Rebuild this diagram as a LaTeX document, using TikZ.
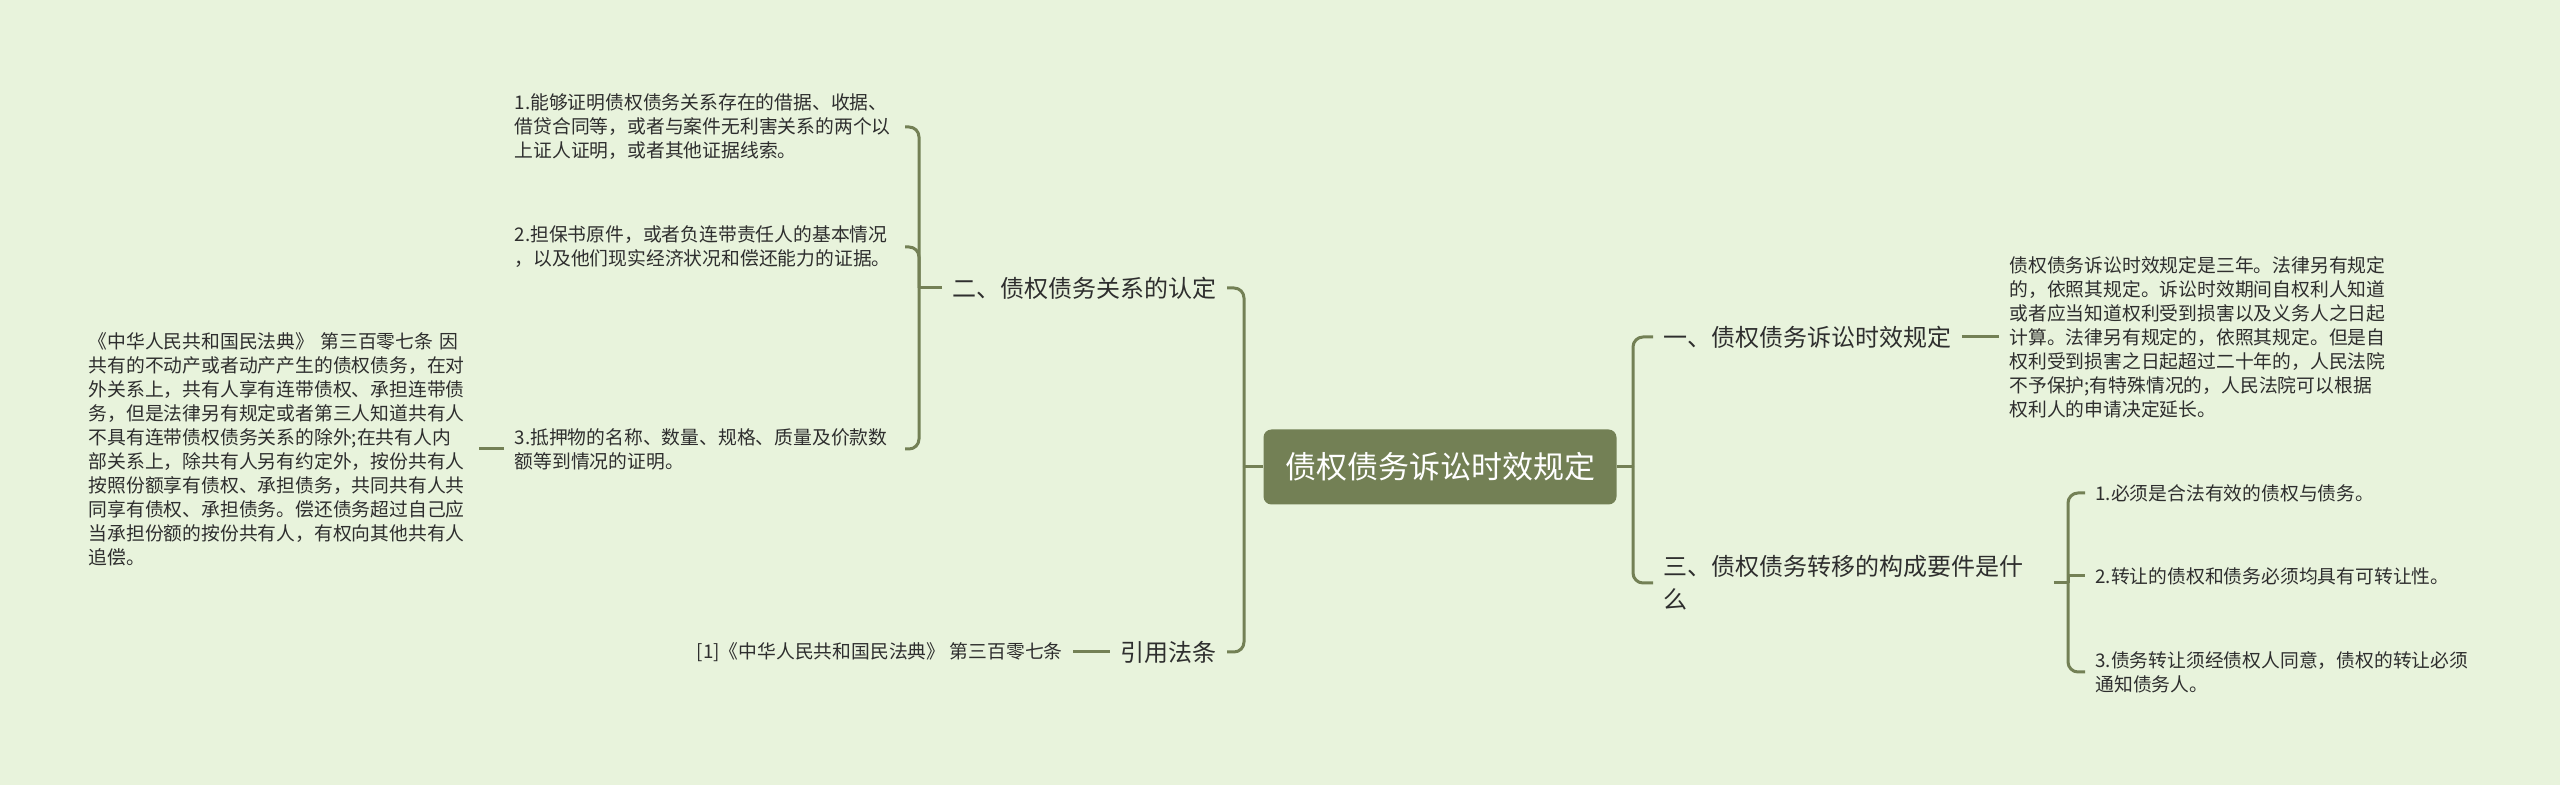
\documentclass[tikz,border=0pt]{standalone}
\usepackage{fontspec}
\setmainfont{Noto Sans CJK SC}
\definecolor{bg}{HTML}{E8F3DC}
\definecolor{olive}{HTML}{738055}
\definecolor{txt}{HTML}{2E2E2E}
\begin{document}
\begin{tikzpicture}[x=0.5pt,y=-0.5pt,
  line/.style={draw=olive,line width=1.5pt},
  brc/.style={line,rounded corners=5pt},
  small/.style={inner xsep=5pt,inner ysep=2pt,text=txt,font=\fontsize{9.4pt}{12pt}\selectfont,align=left},
  mid/.style={inner xsep=5pt,inner ysep=2pt,text=txt,font=\fontsize{12pt}{16.5pt}\selectfont,align=left},
  rootbox/.style={fill=olive,rounded corners=4pt,text=white,font=\fontsize{15.5pt}{18pt}\selectfont,minimum width=176.5pt,minimum height=37.5pt,inner sep=0pt}
]
\fill[bg] (0,0) rectangle (2560,785);
\useasboundingbox (0,0) rectangle (2560,785);

\node[rootbox] (root) at (1440,467) {债权债务诉讼时效规定};

% right side
\node[mid,anchor=west] (n1) at (1653,337) {一、债权债务诉讼时效规定};
\node[small,anchor=west] (t1) at (1999,337) {债权债务诉讼时效规定是三年。法律另有规定\\的，依照其规定。诉讼时效期间自权利人知道\\或者应当知道权利受到损害以及义务人之日起\\计算。法律另有规定的，依照其规定。但是自\\权利受到损害之日起超过二十年的，人民法院\\不予保护;有特殊情况的，人民法院可以根据\\权利人的申请决定延长。};
\node[mid,anchor=west,text width=190pt] (n3) at (1653,583) {三、债权债务转移的构成要件是什\\么};
\node[small,anchor=west] (c1) at (2085,493) {1.必须是合法有效的债权与债务。};
\node[small,anchor=west] (c2) at (2085,576) {2.转让的债权和债务必须均具有可转让性。};
\node[small,anchor=west] (c3) at (2085,672) {3.债务转让须经债权人同意，债权的转让必须\\通知债务人。};

% left side
\node[mid,anchor=east] (n2) at (1227,288) {二、债权债务关系的认定};
\node[mid,anchor=east] (n4) at (1227,652) {引用法条};
\node[small,anchor=east] (r1) at (1073,652) {[1]《中华人民共和国民法典》 第三百零七条};
\node[small,anchor=east,text width=190pt] (a1) at (905,127) {1.能够证明债权债务关系存在的借据、收据、\\借贷合同等，或者与案件无利害关系的两个以\\上证人证明，或者其他证据线索。};
\node[small,anchor=east,text width=190pt] (a2) at (905,247) {2.担保书原件，或者负连带责任人的基本情况\\，以及他们现实经济状况和偿还能力的证据。};
\node[small,anchor=east,text width=190pt] (a3) at (905,449) {3.抵押物的名称、数量、规格、质量及价款数\\额等到情况的证明。};
\node[small,anchor=east,text width=190pt] (L) at (479,449) {《中华人民共和国民法典》 第三百零七条 因\\共有的不动产或者动产产生的债权债务，在对\\外关系上，共有人享有连带债权、承担连带债\\务，但是法律另有规定或者第三人知道共有人\\不具有连带债权债务关系的除外;在共有人内\\部关系上，除共有人另有约定外，按份共有人\\按照份额享有债权、承担债务，共同共有人共\\同享有债权、承担债务。偿还债务超过自己应\\当承担份额的按份共有人，有权向其他共有人\\追偿。};

\coordinate (rb) at (1633,467);
\coordinate (lb) at (1244,467);
\coordinate (b2) at (919,288);
\coordinate (b3) at (2068,583);

\draw[line] (root.east) -- (rb);
\draw[brc] (rb) |- (n1.west);
\draw[brc] (rb) |- (n3.west);
\draw[line] (n1.east) -- (t1.west);
\draw[line] (n3.east) -- (b3);
\draw[brc] (b3) |- (c1.west);
\draw[line] (b3) |- (c2.west);
\draw[brc] (b3) |- (c3.west);

\draw[line] (root.west) -- (lb);
\draw[brc] (lb) |- (n2.east);
\draw[brc] (lb) |- (n4.east);
\draw[line] (n2.west) -- (b2);
\draw[brc] (b2) |- (a1.east);
\draw[brc] (b2) |- (a2.east);
\draw[brc] (b2) |- (a3.east);
\draw[line] (a3.west) -- (L.east);
\draw[line] (r1.east) -- (n4.west);
\end{tikzpicture}
\end{document}
